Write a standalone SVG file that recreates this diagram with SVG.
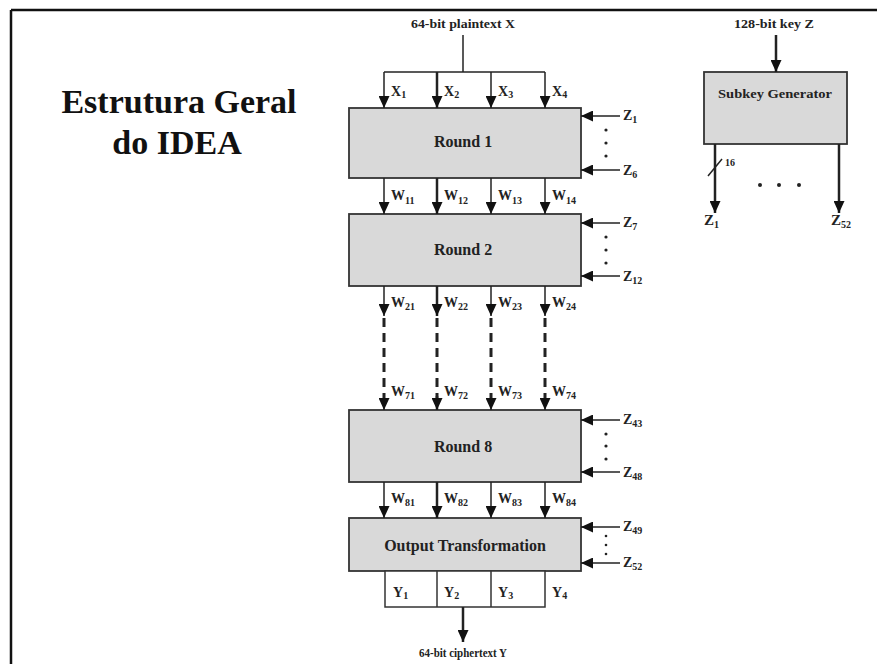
<svg xmlns="http://www.w3.org/2000/svg" width="877" height="664" viewBox="0 0 877 664">
<defs>
<marker id="ah" markerUnits="userSpaceOnUse" markerWidth="13" markerHeight="11" refX="12" refY="5.5" orient="auto">
<path d="M0,0 L12,5.5 L0,11 z" fill="#111"/>
</marker>
<style>
.box{fill:#d9d9d9;stroke:#333;stroke-width:1.8}
.ln{stroke:#222;stroke-width:1.5;fill:none}
.thk{stroke-width:2.5}
.dash{stroke:#222;stroke-width:3;stroke-dasharray:9 6;fill:none}
.t{font-family:"Liberation Serif",serif;font-weight:bold;fill:#222}
.sm{font-size:12px}
.lab{font-size:14px}
.sub{font-size:10px}
.big{font-size:16px;text-anchor:middle}
.title{font-size:34px;text-anchor:middle;fill:#111}
.dot{fill:#222}
</style>
</defs>
<rect width="877" height="664" fill="#fff"/>
<g id="frame">
<line x1="11" y1="10" x2="877" y2="10" stroke="#111" stroke-width="2.5"/>
<line x1="11" y1="10" x2="11" y2="664" stroke="#111" stroke-width="2.5"/>
</g>
<g id="title">
<text class="t title" x="179" y="113">Estrutura Geral</text>
<text class="t title" x="177" y="154">do IDEA</text>
</g>
<g id="plaintext"><text class="t sm" x="463" y="28" text-anchor="middle" textLength="104" lengthAdjust="spacingAndGlyphs">64-bit plaintext X</text></g>
<g id="key"><text class="t sm" x="774" y="28" text-anchor="middle" textLength="80" lengthAdjust="spacingAndGlyphs">128-bit key Z</text></g>
<g id="round1"><rect class="box" x="349" y="108" width="232" height="70"/><text class="t big" x="463" y="147">Round 1</text></g>
<g id="round2"><rect class="box" x="349" y="214" width="232" height="72"/><text class="t big" x="463" y="255">Round 2</text></g>
<g id="round8"><rect class="box" x="349" y="410" width="232" height="72"/><text class="t big" x="463" y="452">Round 8</text></g>
<g id="output"><rect class="box" x="349" y="518" width="232" height="53"/><text class="t big" x="465" y="551" font-size="17">Output Transformation</text></g>
<g id="subkey"><rect class="box" x="704" y="72" width="143" height="72"/><text class="t" x="775" y="98" font-size="13" text-anchor="middle" textLength="114" lengthAdjust="spacingAndGlyphs">Subkey Generator</text></g>
<g id="ybox">
<rect x="385" y="571" width="160" height="36" fill="#fff" stroke="#333" stroke-width="1.5"/>
<line x1="437" y1="571" x2="437" y2="607" stroke="#333" stroke-width="1.5"/>
<line x1="491" y1="571" x2="491" y2="607" stroke="#333" stroke-width="1.5"/>
<text class="t lab" x="393" y="597">Y<tspan class="sub" dy="2">1</tspan></text>
<text class="t lab" x="444" y="597">Y<tspan class="sub" dy="2">2</tspan></text>
<text class="t lab" x="498" y="597">Y<tspan class="sub" dy="2">3</tspan></text>
<text class="t lab" x="552" y="597">Y<tspan class="sub" dy="2">4</tspan></text>
</g>
<g id="ciphertext"><text class="t sm" x="463" y="657" text-anchor="middle" textLength="88" lengthAdjust="spacingAndGlyphs">64-bit ciphertext Y</text></g>
<g id="connectors">
<line class="ln" x1="463" y1="35" x2="463" y2="72"/>
<line class="ln" x1="384" y1="72" x2="545" y2="72"/>
<line class="ln" x1="384" y1="72" x2="384" y2="108" marker-end="url(#ah)"/>
<line class="ln thk" x1="437" y1="72" x2="437" y2="108" marker-end="url(#ah)"/>
<line class="ln" x1="491" y1="72" x2="491" y2="108" marker-end="url(#ah)"/>
<line class="ln" x1="545" y1="72" x2="545" y2="108" marker-end="url(#ah)"/>
<line class="ln" x1="384" y1="178" x2="384" y2="214" marker-end="url(#ah)"/>
<line class="ln thk" x1="437" y1="178" x2="437" y2="214" marker-end="url(#ah)"/>
<line class="ln" x1="491" y1="178" x2="491" y2="214" marker-end="url(#ah)"/>
<line class="ln" x1="545" y1="178" x2="545" y2="214" marker-end="url(#ah)"/>
<line class="ln" x1="384" y1="286" x2="384" y2="316" marker-end="url(#ah)"/>
<line class="ln thk" x1="437" y1="286" x2="437" y2="316" marker-end="url(#ah)"/>
<line class="ln" x1="491" y1="286" x2="491" y2="316" marker-end="url(#ah)"/>
<line class="ln" x1="545" y1="286" x2="545" y2="316" marker-end="url(#ah)"/>
<line class="dash" x1="384" y1="318" x2="384" y2="398"/>
<line class="dash" x1="437" y1="318" x2="437" y2="398" stroke-width="4"/>
<line class="dash" x1="491" y1="318" x2="491" y2="398"/>
<line class="dash" x1="545" y1="318" x2="545" y2="398"/>
<line class="ln" x1="384" y1="396" x2="384" y2="410" marker-end="url(#ah)"/>
<line class="ln thk" x1="437" y1="396" x2="437" y2="410" marker-end="url(#ah)"/>
<line class="ln" x1="491" y1="396" x2="491" y2="410" marker-end="url(#ah)"/>
<line class="ln" x1="545" y1="396" x2="545" y2="410" marker-end="url(#ah)"/>
<line class="ln" x1="384" y1="482" x2="384" y2="518" marker-end="url(#ah)"/>
<line class="ln thk" x1="437" y1="482" x2="437" y2="518" marker-end="url(#ah)"/>
<line class="ln" x1="491" y1="482" x2="491" y2="518" marker-end="url(#ah)"/>
<line class="ln" x1="545" y1="482" x2="545" y2="518" marker-end="url(#ah)"/>
<line class="ln thk" x1="463" y1="607" x2="463" y2="642" marker-end="url(#ah)"/>
<line class="ln thk" x1="776" y1="35" x2="776" y2="72" marker-end="url(#ah)"/>
<line class="ln thk" x1="715" y1="144" x2="715" y2="213" marker-end="url(#ah)"/>
<line class="ln thk" x1="839" y1="144" x2="839" y2="213" marker-end="url(#ah)"/>
<line class="ln" x1="708" y1="176" x2="722" y2="159" stroke-width="1"/>
<line class="ln" x1="620" y1="116" x2="581" y2="116" marker-end="url(#ah)"/>
<line class="ln" x1="620" y1="170" x2="581" y2="170" marker-end="url(#ah)"/>
<line class="ln" x1="620" y1="223" x2="581" y2="223" marker-end="url(#ah)"/>
<line class="ln" x1="620" y1="276" x2="581" y2="276" marker-end="url(#ah)"/>
<line class="ln" x1="620" y1="420" x2="581" y2="420" marker-end="url(#ah)"/>
<line class="ln" x1="620" y1="472" x2="581" y2="472" marker-end="url(#ah)"/>
<line class="ln" x1="620" y1="527" x2="581" y2="527" marker-end="url(#ah)"/>
<line class="ln" x1="620" y1="563" x2="581" y2="563" marker-end="url(#ah)"/>
</g>
<g id="dots">
<circle class="dot" cx="606" cy="130" r="1.6"/><circle class="dot" cx="606" cy="143" r="1.6"/><circle class="dot" cx="606" cy="156" r="1.6"/>
<circle class="dot" cx="606" cy="237" r="1.6"/><circle class="dot" cx="606" cy="250" r="1.6"/><circle class="dot" cx="606" cy="263" r="1.6"/>
<circle class="dot" cx="606" cy="434" r="1.6"/><circle class="dot" cx="606" cy="446" r="1.6"/><circle class="dot" cx="606" cy="459" r="1.6"/>
<circle class="dot" cx="606" cy="536" r="1.3"/><circle class="dot" cx="606" cy="545" r="1.3"/><circle class="dot" cx="606" cy="554" r="1.3"/>
<circle class="dot" cx="760" cy="185" r="2"/><circle class="dot" cx="779" cy="185" r="2"/><circle class="dot" cx="799" cy="185" r="2"/>
</g>
<g id="labels">
<text class="t lab" x="391" y="96">X<tspan class="sub" dy="2">1</tspan></text>
<text class="t lab" x="444" y="96">X<tspan class="sub" dy="2">2</tspan></text>
<text class="t lab" x="498" y="96">X<tspan class="sub" dy="2">3</tspan></text>
<text class="t lab" x="552" y="96">X<tspan class="sub" dy="2">4</tspan></text>
<text class="t lab" x="391" y="200">W<tspan class="sub" dy="4">11</tspan></text>
<text class="t lab" x="444" y="200">W<tspan class="sub" dy="4">12</tspan></text>
<text class="t lab" x="498" y="200">W<tspan class="sub" dy="4">13</tspan></text>
<text class="t lab" x="552" y="200">W<tspan class="sub" dy="4">14</tspan></text>
<text class="t lab" x="391" y="307">W<tspan class="sub" dy="3">21</tspan></text>
<text class="t lab" x="444" y="307">W<tspan class="sub" dy="3">22</tspan></text>
<text class="t lab" x="498" y="307">W<tspan class="sub" dy="3">23</tspan></text>
<text class="t lab" x="552" y="307">W<tspan class="sub" dy="3">24</tspan></text>
<text class="t lab" x="391" y="396">W<tspan class="sub" dy="3">71</tspan></text>
<text class="t lab" x="444" y="396">W<tspan class="sub" dy="3">72</tspan></text>
<text class="t lab" x="498" y="396">W<tspan class="sub" dy="3">73</tspan></text>
<text class="t lab" x="552" y="396">W<tspan class="sub" dy="3">74</tspan></text>
<text class="t lab" x="391" y="503">W<tspan class="sub" dy="3">81</tspan></text>
<text class="t lab" x="444" y="503">W<tspan class="sub" dy="3">82</tspan></text>
<text class="t lab" x="498" y="503">W<tspan class="sub" dy="3">83</tspan></text>
<text class="t lab" x="552" y="503">W<tspan class="sub" dy="3">84</tspan></text>
<text class="t lab" x="623" y="120">Z<tspan class="sub" dy="3">1</tspan></text>
<text class="t lab" x="623" y="175">Z<tspan class="sub" dy="3">6</tspan></text>
<text class="t lab" x="623" y="227">Z<tspan class="sub" dy="3">7</tspan></text>
<text class="t lab" x="623" y="281">Z<tspan class="sub" dy="3">12</tspan></text>
<text class="t lab" x="623" y="424">Z<tspan class="sub" dy="3">43</tspan></text>
<text class="t lab" x="623" y="477">Z<tspan class="sub" dy="3">48</tspan></text>
<text class="t lab" x="623" y="531">Z<tspan class="sub" dy="3">49</tspan></text>
<text class="t lab" x="623" y="567">Z<tspan class="sub" dy="3">52</tspan></text>
<text class="t" font-size="10" x="725" y="166">16</text>
<text class="t" font-size="15" x="704" y="225">Z<tspan class="sub" dy="3">1</tspan></text>
<text class="t" font-size="15" x="831" y="225">Z<tspan class="sub" dy="3">52</tspan></text>
</g>
</svg>
